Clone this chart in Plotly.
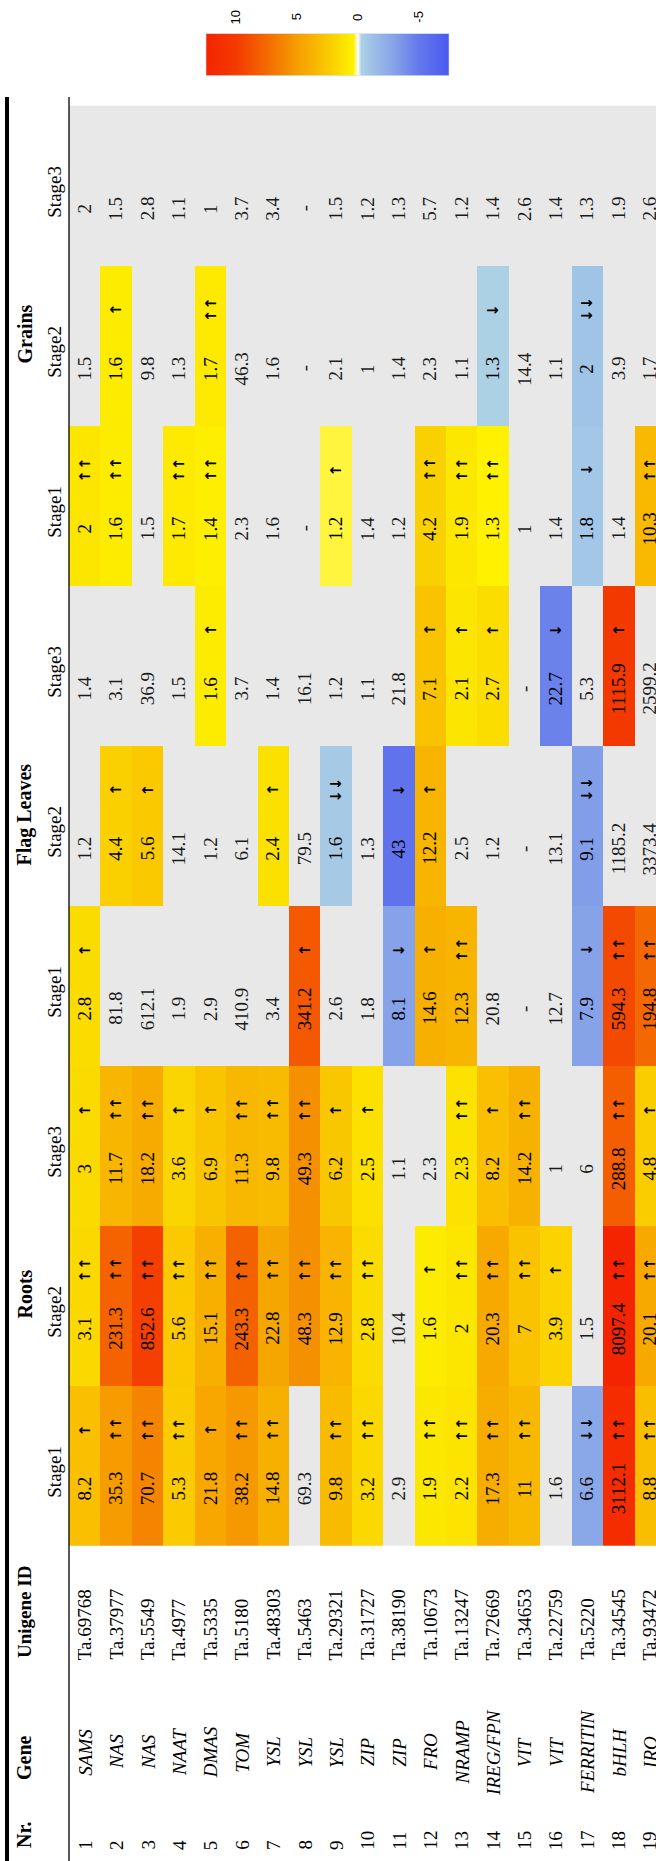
import math
import plotly.graph_objects as go

# ---------------- table content ----------------
row_numbers = list(range(1, 20))
genes = ["SAMS", "NAS", "NAS", "NAAT", "DMAS", "TOM", "YSL", "YSL", "YSL", "ZIP",
         "ZIP", "FRO", "NRAMP", "IREG/FPN", "VIT", "VIT", "FERRITIN", "bHLH", "IRO"]
unigene_ids = ["Ta.69768", "Ta.37977", "Ta.5549", "Ta.4977", "Ta.5335", "Ta.5180",
               "Ta.48303", "Ta.5463", "Ta.29321", "Ta.31727", "Ta.38190", "Ta.10673",
               "Ta.13247", "Ta.72669", "Ta.34653", "Ta.22759", "Ta.5220", "Ta.34545",
               "Ta.93472"]
tissues = ["Roots", "Flag Leaves", "Grains"]
stages = ["Stage1", "Stage2", "Stage3"]

# fold changes (None = not detected, shown as "-")
roots_stage1 = [8.2, 35.3, 70.7, 5.3, 21.8, 38.2, 14.8, 69.3, 9.8, 3.2, 2.9, 1.9, 2.2, 17.3, 11, 1.6, 6.6, 3112.1, 8.8]
roots_stage2 = [3.1, 231.3, 852.6, 5.6, 15.1, 243.3, 22.8, 48.3, 12.9, 2.8, 10.4, 1.6, 2, 20.3, 7, 3.9, 1.5, 8097.4, 20.1]
roots_stage3 = [3, 11.7, 18.2, 3.6, 6.9, 11.3, 9.8, 49.3, 6.2, 2.5, 1.1, 2.3, 2.3, 8.2, 14.2, 1, 6, 288.8, 4.8]
leaves_stage1 = [2.8, 81.8, 612.1, 1.9, 2.9, 410.9, 3.4, 341.2, 2.6, 1.8, 8.1, 14.6, 12.3, 20.8, None, 12.7, 7.9, 594.3, 194.8]
leaves_stage2 = [1.2, 4.4, 5.6, 14.1, 1.2, 6.1, 2.4, 79.5, 1.6, 1.3, 43, 12.2, 2.5, 1.2, None, 13.1, 9.1, 1185.2, 3373.4]
leaves_stage3 = [1.4, 3.1, 36.9, 1.5, 1.6, 3.7, 1.4, 16.1, 1.2, 1.1, 21.8, 7.1, 2.1, 2.7, None, 22.7, 5.3, 1115.9, 2599.2]
grains_stage1 = [2, 1.6, 1.5, 1.7, 1.4, 2.3, 1.6, None, 1.2, 1.4, 1.2, 4.2, 1.9, 1.3, 1, 1.4, 1.8, 1.4, 10.3]
grains_stage2 = [1.5, 1.6, 9.8, 1.3, 1.7, 46.3, 1.6, None, 2.1, 1, 1.4, 2.3, 1.1, 1.3, 14.4, 1.1, 2, 3.9, 1.7]
grains_stage3 = [2, 1.5, 2.8, 1.1, 1, 3.7, 3.4, None, 1.5, 1.2, 1.3, 5.7, 1.2, 1.4, 2.6, 1.4, 1.3, 1.9, 2.6]

# regulation: "+" up, "++" strongly up, "-" down, "--" strongly down, "" not significant
roots_stage1_reg = ["+", "++", "++", "++", "+", "++", "++", "", "++", "++", "", "++", "++", "++", "++", "", "--", "++", "++"]
roots_stage2_reg = ["++", "++", "++", "++", "++", "++", "++", "++", "++", "++", "", "+", "++", "++", "++", "+", "", "++", "++"]
roots_stage3_reg = ["+", "++", "++", "+", "+", "++", "++", "++", "+", "+", "", "", "++", "+", "++", "", "", "++", "+"]
leaves_stage1_reg = ["+", "", "", "", "", "", "", "+", "", "", "-", "+", "++", "", "", "", "-", "++", "++"]
leaves_stage2_reg = ["", "+", "+", "", "", "", "+", "", "--", "", "-", "+", "", "", "", "", "--", "", ""]
leaves_stage3_reg = ["", "", "", "", "+", "", "", "", "", "", "", "+", "+", "+", "", "-", "", "+", ""]
grains_stage1_reg = ["++", "++", "", "++", "++", "", "", "", "+", "", "", "++", "++", "++", "", "", "-", "", "++"]
grains_stage2_reg = ["", "+", "", "", "++", "", "", "", "", "", "", "", "", "-", "", "", "--", "", ""]
grains_stage3_reg = [""] * 19

columns = [
    (roots_stage1, roots_stage1_reg), (roots_stage2, roots_stage2_reg), (roots_stage3, roots_stage3_reg),
    (leaves_stage1, leaves_stage1_reg), (leaves_stage2, leaves_stage2_reg), (leaves_stage3, leaves_stage3_reg),
    (grains_stage1, grains_stage1_reg), (grains_stage2, grains_stage2_reg), (grains_stage3, grains_stage3_reg),
]

# colour scale in log2 fold-change units
Z_MIN, Z_MAX = -7.5, 12.5
scale_stops = [
    (-7.5, "#4A5AF0"), (-5.0, "#6478EC"), (-3.0, "#86A2E8"), (-1.0, "#A0C4E6"),
    (-0.3, "#AED2E4"), (0.0, "#FFFFFF"), (0.35, "#FFF200"), (1.0, "#FCE600"),
    (2.0, "#FAD200"), (3.0, "#F9C000"), (4.0, "#F7AE00"), (5.0, "#F69E00"),
    (6.0, "#F58800"), (7.5, "#F46A00"), (10.0, "#F43A00"), (12.5, "#F42400"),
]
colorscale = [[(v - Z_MIN) / (Z_MAX - Z_MIN), c] for v, c in scale_stops]
# mirrored scale for the legend bar, which runs from high (left) to low (right)
legend_scale = sorted([[(Z_MAX - v) / (Z_MAX - Z_MIN), c] for v, c in scale_stops])

# ---------------- geometry ----------------
W, H = 656, 1861
ROW_PX, ROW1_PX = 31.4, 84.7        # data row pitch and centre of row 1
COL_PX, COL0_PX = 160.0, 1465.7     # stage column pitch and centre of Roots Stage1
X0 = 1 - ROW1_PX / ROW_PX
X1 = X0 + W / ROW_PX
Y_TOP = COL0_PX / COL_PX
Y_BOT = Y_TOP - H / COL_PX


def xpx(p):
    return X0 + p / ROW_PX


def ypx(p):
    return Y_TOP - p / COL_PX


SERIF = "Liberation Serif"
VAL_SIZE = 19


def fmt(v):
    return "-" if v is None else f"{v:g}"


def score(v, reg):
    if not reg or v is None:
        return None
    s = math.log2(v)
    return -s if reg.startswith("-") else s


z = [[score(v, r) for v, r in zip(vals, regs)] for vals, regs in columns]

fig = go.Figure()
fig.add_trace(go.Heatmap(
    x=row_numbers, y=list(range(len(columns))), z=z,
    colorscale=colorscale, zmin=Z_MIN, zmax=Z_MAX,
    showscale=False, hoverinfo="skip", xgap=0, ygap=0,
))

# legend bar
fig.add_trace(go.Scatter(
    x=[X0 - 5], y=[Y_BOT - 5], mode="markers", hoverinfo="skip",
    marker=dict(
        color=[0], colorscale=legend_scale, cmin=-Z_MAX, cmax=-Z_MIN, showscale=True,
        colorbar=dict(
            orientation="h", x=(206 + 449) / 2 / W, xanchor="center",
            y=1 - 55 / H, yanchor="middle", len=243 / W, lenmode="fraction",
            thickness=42, thicknessmode="pixels", outlinewidth=0.6,
            outlinecolor="#d8dcf0", showticklabels=False, ticks="",
            xpad=0, ypad=0,
        ),
    ),
))

shapes = [
    dict(type="rect", xref="x", yref="y", x0=0.5, x1=len(row_numbers) + 0.5,
         y0=-0.5, y1=len(columns) - 0.5, fillcolor="#E8E8E8", line=dict(width=0), layer="below"),
    dict(type="line", xref="x", yref="y", x0=xpx(7), x1=xpx(7), y0=ypx(97), y1=ypx(H + 5),
         line=dict(color="black", width=4)),
    dict(type="line", xref="x", yref="y", x0=xpx(69), x1=xpx(69), y0=ypx(97), y1=ypx(H + 5),
         line=dict(color="black", width=1.3)),
]

ann = []


def add_text(x, y, text, size=VAL_SIZE, family=SERIF, color="black", yanchor="middle"):
    ann.append(dict(x=x, y=y, xref="x", yref="y", text=text, showarrow=False,
                    textangle=-90, font=dict(family=family, size=size, color=color),
                    xanchor="center", yanchor=yanchor))


ARROWS = {"+": "↑", "++": "↑↑", "-": "↓", "--": "↓↓"}
for k, (vals, regs) in enumerate(columns):
    for i, (v, r) in enumerate(zip(vals, regs)):
        add_text(row_numbers[i], k - 23 / COL_PX, fmt(v),
                 color="black" if r else "#1a1a1a")
        if r:
            add_text(row_numbers[i], k + 36 / COL_PX, f"<b>{ARROWS[r]}</b>", size=15,
                     family="DejaVu Sans")
    add_text(xpx(55), k - 6 / COL_PX, stages[k % 3])

for g, name in enumerate(tissues):
    add_text(xpx(24), 3 * g + 1 + 0.07, f"<b>{name}</b>", size=20)

for i, n in enumerate(row_numbers):
    add_text(n, ypx(1852), str(n), yanchor="bottom")
    add_text(n, ypx(1752), f"<i>{genes[i]}</i>")
    add_text(n, ypx(1662), unigene_ids[i], yanchor="bottom")

add_text(xpx(24), ypx(1850), "<b>Nr.</b>", size=20, yanchor="bottom")
add_text(xpx(24), ypx(1758), "<b>Gene</b>", size=20)
add_text(xpx(24), ypx(1660), "<b>Unigene ID</b>", size=19, yanchor="bottom")

# legend ticks and labels
LEG_L, LEG_R = 206, 449
legend_ticks = [10, 5, 0, -5]
for t in legend_ticks:
    px = LEG_L + (Z_MAX - t) / (Z_MAX - Z_MIN) * (LEG_R - LEG_L)
    ann.append(dict(x=px / W, y=1 - 17 / H, xref="paper", yref="paper", text=str(t),
                    showarrow=False, textangle=-90,
                    font=dict(family="Liberation Sans", size=13, color="black"),
                    xanchor="center", yanchor="middle"))
    if t != 0:
        for a, b in ((34, 43), (67, 76)):
            shapes.append(dict(type="line", xref="paper", yref="paper",
                               x0=px / W, x1=px / W, y0=1 - a / H, y1=1 - b / H,
                               line=dict(color="white", width=1)))

fig.update_layout(
    width=W, height=H, margin=dict(l=0, r=0, t=0, b=0),
    paper_bgcolor="white", plot_bgcolor="white", showlegend=False,
    xaxis=dict(range=[X0, X1], visible=False, fixedrange=True),
    yaxis=dict(range=[Y_BOT, Y_TOP], visible=False, fixedrange=True),
    shapes=shapes, annotations=ann,
)

fig.write_html("out.html")
